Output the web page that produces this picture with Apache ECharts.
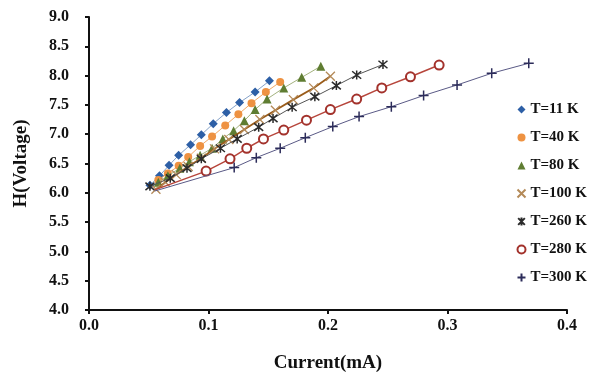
<!DOCTYPE html>
<html>
<head>
<meta charset="utf-8">
<script src="https://cdn.jsdelivr.net/npm/echarts@6/dist/echarts.min.js"></script>
<style>
html,body{margin:0;padding:0;background:#fff;}
#chart{width:612px;height:378px;}
</style>
</head>
<body>
<div id="chart"></div>
<script>
// Series names (legend labels)
var seriesNames = ['T=11 K','T=40 K','T=80 K','T=100 K','T=260 K','T=280 K','T=300 K'];

// Current (mA) / H (Voltage) values per series
var x11  = [0.051,0.059,0.067,0.075,0.085,0.094,0.104,0.115,0.126,0.139,0.151];
var y11  = [6.13,6.29,6.47,6.64,6.82,6.99,7.18,7.37,7.54,7.72,7.91];

var x40  = [0.058,0.066,0.075,0.083,0.093,0.103,0.114,0.125,0.136,0.148,0.160];
var y40  = [6.22,6.33,6.46,6.61,6.80,6.96,7.15,7.34,7.53,7.72,7.89];

var x80  = [0.058,0.066,0.076,0.084,0.093,0.103,0.112,0.121,0.130,0.139,0.149,0.163,0.178,0.194];
var y80  = [6.18,6.29,6.42,6.53,6.64,6.76,6.92,7.06,7.23,7.42,7.60,7.79,7.97,8.16];

var x100 = [0.056,0.064,0.073,0.083,0.094,0.105,0.117,0.130,0.143,0.156,0.171,0.188,0.202];
var y100 = [6.06,6.18,6.31,6.45,6.59,6.75,6.91,7.08,7.25,7.41,7.59,7.79,7.99];

var x260 = [0.051,0.068,0.082,0.094,0.110,0.124,0.142,0.154,0.170,0.189,0.207,0.224,0.246];
var y260 = [6.11,6.25,6.42,6.58,6.76,6.92,7.12,7.27,7.46,7.64,7.83,8.01,8.19];

var x280 = [0.055,0.098,0.118,0.132,0.146,0.163,0.182,0.202,0.224,0.245,0.269,0.293];
var y280 = [6.05,6.37,6.58,6.76,6.92,7.07,7.24,7.42,7.60,7.79,7.98,8.18];

var x300 = [0.055,0.1215,0.140,0.160,0.181,0.204,0.226,0.253,0.280,0.308,0.337,0.368];
var y300 = [6.03,6.43,6.60,6.76,6.94,7.13,7.30,7.47,7.66,7.84,8.04,8.21];

// first point of these series is only the start of the line (marker hidden in the cluster)
var hiddenFirst = [false,false,false,false,false,true,true];

var xTicks = [0.0,0.1,0.2,0.3,0.4];
var yTicks = [4.0,4.5,5.0,5.5,6.0,6.5,7.0,7.5,8.0,8.5,9.0];

var xs = [x11,x40,x80,x100,x260,x280,x300];
var ys = [y11,y40,y80,y100,y260,y280,y300];

var P_X = 'path://M0,0L10,10M10,0L0,10';
var P_AST = 'path://M0,0L10,10M10,0L0,10M5,-1L5,11';
var P_PLUS = 'path://M5,0L5,10M0,5L10,5';

var styles = [
  {symbol:'diamond', size:9, fill:'#2d5fa6', border:'#2d5fa6', bw:0, line:'#86a2c8', lw:1},
  {symbol:'circle', size:8, fill:'#ee9242', border:'#ee9242', bw:0, line:'#f0a866', lw:1},
  {symbol:'triangle', size:9, fill:'#5f7d32', border:'#5f7d32', bw:0, line:'#a3b27e', lw:1},
  {symbol:P_X, size:9, fill:'none', border:'#b48a58', bw:1.3, line:'#9a5c1a', lw:1.8},
  {symbol:P_AST, size:9, fill:'none', border:'#2b2b2b', bw:1.5, line:'#555555', lw:1},
  {symbol:'emptyCircle', size:9, fill:'#a3322c', border:'#a3322c', bw:1.6, line:'#b7463c', lw:1.5},
  {symbol:P_PLUS, size:10, fill:'none', border:'#2c2c5a', bw:1.5, line:'#5a5a86', lw:1}
];

var series = seriesNames.map(function(name, i){
  var st = styles[i];
  var data = xs[i].map(function(xv, j){
    var item = {value:[xv, ys[i][j]]};
    if (j === 0 && hiddenFirst[i]) item.symbol = 'none';
    return item;
  });
  return {
    name: name,
    type: 'line',
    data: data,
    symbol: st.symbol,
    symbolSize: st.size,
    showSymbol: true,
    animation: false,
    lineStyle: {color: st.line, width: st.lw},
    itemStyle: {color: st.fill, borderColor: st.border, borderWidth: st.bw},
    emphasis: {disabled: true},
    z: 2 + i
  };
});

var chart = echarts.init(document.getElementById('chart'), null, {renderer:'canvas'});
var serif = '"Liberation Serif", "Times New Roman", serif';
chart.setOption({
  backgroundColor: '#ffffff',
  animation: false,
  grid: {left: 89, right: 45, top: 17, bottom: 64, containLabel: false},
  xAxis: {
    type: 'value', min: xTicks[0], max: xTicks[xTicks.length-1], interval: 0.1,
    name: 'Current(mA)', nameLocation: 'middle', nameGap: 44,
    nameTextStyle: {fontFamily: serif, fontWeight: 'bold', fontSize: 19, color: '#111'},
    axisLine: {lineStyle: {color: '#111', width: 2}},
    axisTick: {show: true, inside: false, length: 4, lineStyle: {color: '#111', width: 2}},
    axisLabel: {fontFamily: serif, fontWeight: 'bold', fontSize: 16, color: '#111', margin: 8,
      formatter: function(v){ return v.toFixed(1); }},
    splitLine: {show: false}
  },
  yAxis: {
    type: 'value', min: yTicks[0], max: yTicks[yTicks.length-1], interval: 0.5,
    name: 'H(Voltage)', nameLocation: 'middle', nameGap: 58, nameRotate: 90,
    nameTextStyle: {fontFamily: serif, fontWeight: 'bold', fontSize: 19, color: '#111'},
    axisLine: {show: true, lineStyle: {color: '#111', width: 2}},
    axisTick: {show: true, inside: false, length: 4, lineStyle: {color: '#111', width: 2}},
    axisLabel: {fontFamily: serif, fontWeight: 'bold', fontSize: 16, color: '#111', margin: 20,
      formatter: function(v){ return v.toFixed(1); }},
    splitLine: {show: false}
  },
  legend: {
    orient: 'vertical', left: 510, top: 96,
    itemWidth: 8, itemHeight: 8, itemGap: 11, itemTextGap: 7,
    selectedMode: false,
    textStyle: {fontFamily: serif, fontWeight: 'bold', fontSize: 15, color: '#111', lineHeight: 17},
    data: seriesNames.map(function(n, i){ return {name: n, icon: styles[i].symbol}; })
  },
  series: series
});
</script>
</body>
</html>
